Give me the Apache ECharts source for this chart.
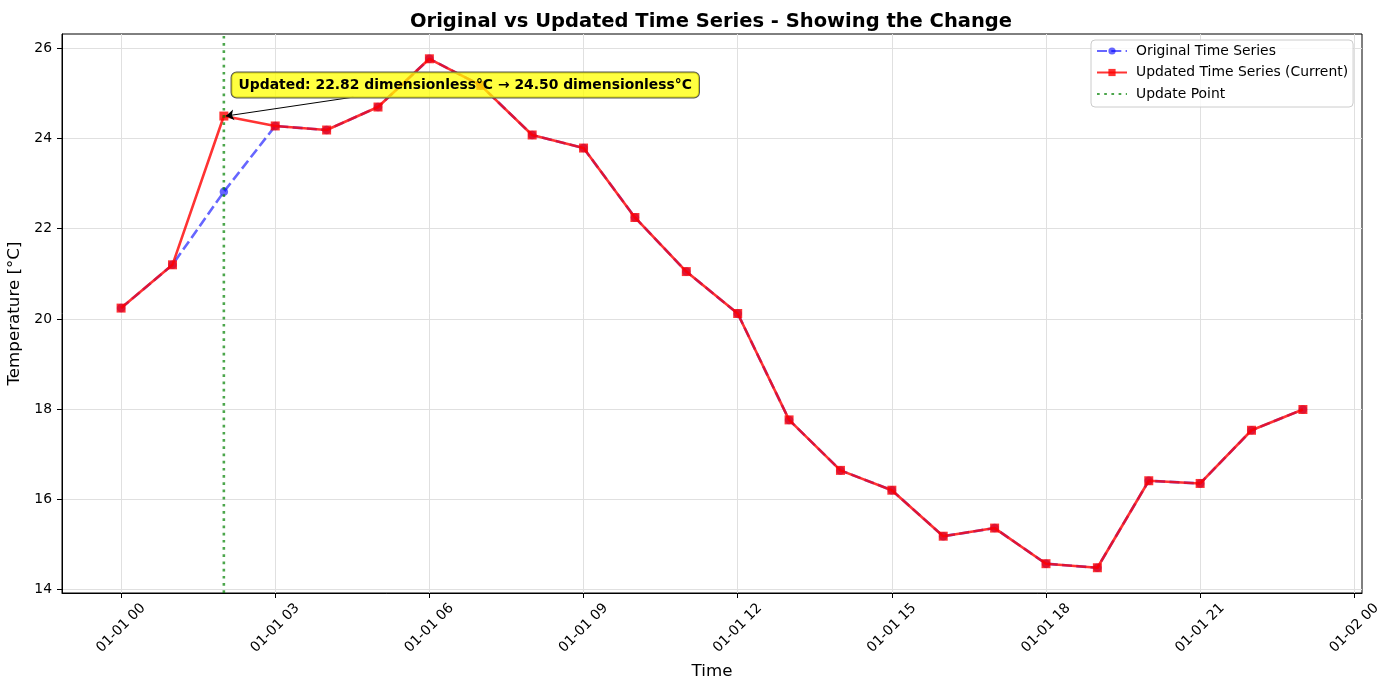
<!DOCTYPE html>
<html>
<head>
<meta charset="utf-8">
<script src="https://cdn.jsdelivr.net/npm/echarts@6/dist/echarts.min.js"></script>
<style>
html,body{margin:0;padding:0;background:#fff;}
#chart{width:1388px;height:690px;}
</style>
</head>
<body>
<div id="chart"></div>
<script>
// ---- data ----
const hours = [0,1,2,3,4,5,6,7,8,9,10,11,12,13,14,15,16,17,18,19,20,21,22,23];
const originalSeries = [20.24, 21.20, 22.82, 24.28, 24.19, 24.70, 25.77, 25.18, 24.08, 23.79, 22.25, 21.05,
                        20.12, 17.76, 16.64, 16.20, 15.18, 15.36, 14.57, 14.48, 16.41, 16.35, 17.53, 17.99];
const updatedSeries  = [20.24, 21.20, 24.50, 24.28, 24.19, 24.70, 25.77, 25.18, 24.08, 23.79, 22.25, 21.05,
                        20.12, 17.76, 16.64, 16.20, 15.18, 15.36, 14.57, 14.48, 16.41, 16.35, 17.53, 17.99];
const updateHour = 2;
const oldValue = 22.82;
const newValue = 24.50;
const xTickValues = [0,3,6,9,12,15,18,21,24];
const xTickLabels = ['01-01 00','01-01 03','01-01 06','01-01 09','01-01 12','01-01 15','01-01 18','01-01 21','01-02 00'];
const yTickValues = [14,16,18,20,22,24,26];
const xMin = -1.15, xMax = 24.15;
const yMin = 13.92, yMax = 26.32;

const FONT = 'DejaVu Sans';
const annoText = 'Updated: ' + oldValue.toFixed(2) + ' dimensionless°C → ' + newValue.toFixed(2) + ' dimensionless°C';

const chart = echarts.init(document.getElementById('chart'), null, {renderer:'canvas'});

const gridLineData = [];
xTickValues.forEach(v => { if (v > xMin && v < xMax) gridLineData.push({xAxis: v}); });
yTickValues.forEach(v => gridLineData.push({yAxis: v}));

const option = {
  backgroundColor: '#fff',
  animation: false,
  title: {
    text: 'Original vs Updated Time Series - Showing the Change',
    left: 706, top: 7, textAlign: 'center',
    textStyle: {fontFamily: FONT, fontSize: 19.5, fontWeight: 'bold', color: '#000'}
  },
  grid: {left: 62, right: 26, top: 34, bottom: 97, show: true, borderColor: '#000', borderWidth: 1,
         backgroundColor: 'transparent', containLabel: false, outerBoundsMode: 'none'},
  legend: {
    orient: 'vertical', left: 1091, top: 40, z: 10,
    data: [
      {name: 'Original Time Series'},
      {name: 'Updated Time Series (Current)'},
      {name: 'Update Point', itemStyle: {color: 'rgba(0,0,0,0)', borderWidth: 0}}
    ],
    itemWidth: 30, itemHeight: 9, itemGap: 7.5,
    padding: [4, 5, 6, 5],
    borderColor: '#ccc', borderWidth: 1, borderRadius: 4,
    backgroundColor: 'rgba(255,255,255,0.8)',
    textStyle: {fontFamily: FONT, fontSize: 13.9, color: '#000', padding: [0, 0, 0, 4]}
  },
  xAxis: {
    type: 'value', min: xMin, max: xMax,
    name: 'Time', nameLocation: 'middle', nameGap: 70,
    nameTextStyle: {fontFamily: FONT, fontSize: 16.7, color: '#000'},
    axisLine: {show: true, onZero: false, lineStyle: {color: '#000', width: 1}},
    axisTick: {show: true, length: 5, lineStyle: {color: '#000'}, customValues: xTickValues},
    axisLabel: {
      customValues: xTickValues,
      formatter: v => { const i = xTickValues.indexOf(Math.round(v)); return i >= 0 ? xTickLabels[i] : ''; },
      rotate: 45, align: 'center', verticalAlign: 'middle', margin: 35,
      fontFamily: FONT, fontSize: 13.9, color: '#000'
    },
    splitLine: {show: false}
  },
  yAxis: {
    type: 'value', min: yMin, max: yMax,
    name: 'Temperature [°C]', nameLocation: 'middle', nameGap: 31, nameRotate: 90,
    nameTextStyle: {fontFamily: FONT, fontSize: 16.7, color: '#000'},
    axisLine: {show: true, onZero: false, lineStyle: {color: '#000', width: 1}},
    axisTick: {show: true, length: 5, lineStyle: {color: '#000'}, customValues: yTickValues},
    axisLabel: {customValues: yTickValues, margin: 10, fontFamily: FONT, fontSize: 13.9, color: '#000'},
    splitLine: {show: false}
  },
  series: [
    {
      name: 'grid', type: 'line', data: [], silent: true, z: 0,
      markLine: {silent: true, z: 0, symbol: ['none','none'], label: {show: false},
        lineStyle: {color: '#e0e0e0', width: 1, type: 'solid'}, data: gridLineData, animation: false}
    },
    {
      name: 'Original Time Series', type: 'line', z: 2,
      data: hours.map((h, i) => [h, originalSeries[i]]),
      symbol: 'circle', symbolSize: 8.5,
      lineStyle: {color: 'rgba(0,0,255,0.6)', width: 2.6, type: [10, 4.3]},
      itemStyle: {color: 'rgba(0,0,255,0.6)', borderWidth: 0}
    },
    {
      name: 'Updated Time Series (Current)', type: 'line', z: 3,
      data: hours.map((h, i) => [h, updatedSeries[i]]),
      symbol: 'rect', symbolSize: 9,
      lineStyle: {color: 'rgba(255,0,0,0.8)', width: 2.6, type: 'solid'},
      itemStyle: {color: 'rgba(255,0,0,0.8)', borderWidth: 0},
      markLine: {
        silent: true, z: 6, symbol: ['none', 'arrow'], symbolSize: 8, label: {show: false},
        lineStyle: {color: '#000', width: 1, type: 'solid'},
        data: [[{coord: [4.52, 24.92]}, {coord: [updateHour + 0.04, newValue]}]]
      },
      markPoint: {
        silent: true, z: 7, symbol: 'rect', symbolSize: 1, itemStyle: {color: 'rgba(0,0,0,0)'},
        data: [{
          coord: [2.14, 25.19],
          label: {
            show: true, position: 'right', distance: 0, formatter: annoText,
            backgroundColor: 'rgba(255,255,0,0.75)', borderColor: '#555', borderWidth: 1, borderRadius: 5,
            padding: [6, 7, 5, 7], fontFamily: FONT, fontSize: 13.9, fontWeight: 'bold', color: '#000'
          }
        }]
      }
    },
    {
      name: 'Update Point', type: 'line', z: 4,
      data: [[updateHour, yMin], [updateHour, yMax]],
      showSymbol: false, symbol: 'none',
      lineStyle: {color: 'rgba(0,128,0,0.7)', width: 2.6, type: [2.7, 4.5]},
      itemStyle: {color: 'rgba(0,128,0,0.7)'}
    }
  ]
};
chart.setOption(option);
</script>
</body>
</html>
